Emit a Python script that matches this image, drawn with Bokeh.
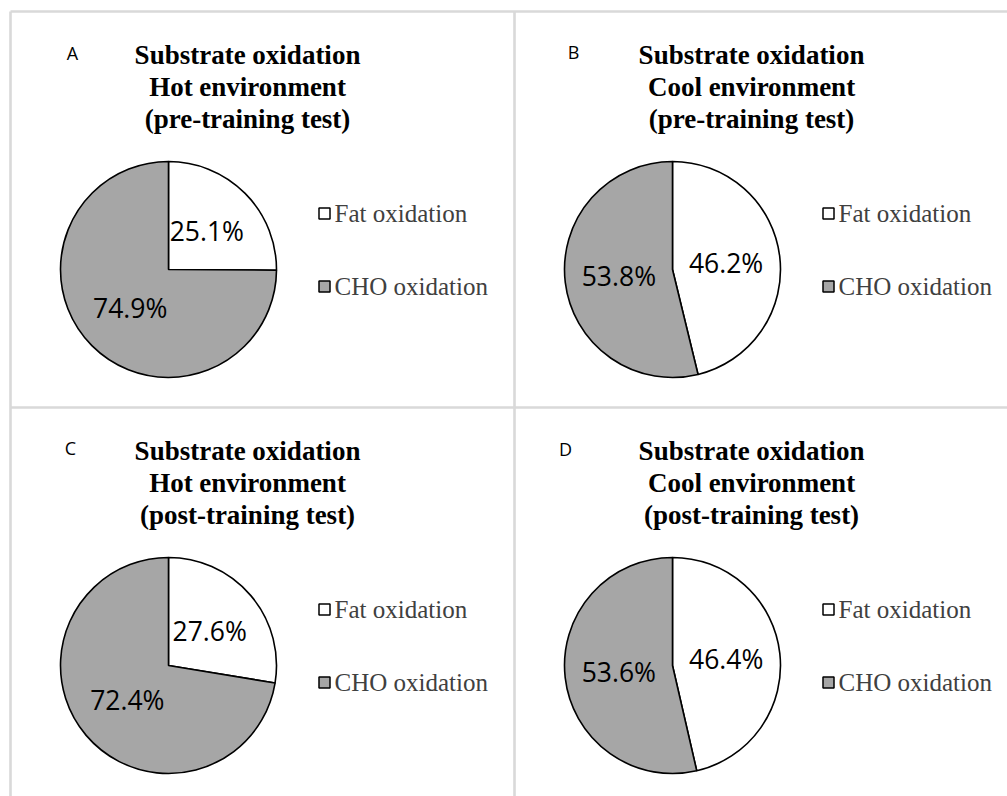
import math

from bokeh.core.properties import value
from bokeh.embed import file_html
from bokeh.models import ColumnDataSource, Range1d
from bokeh.plotting import figure
from bokeh.resources import INLINE

# ---- data -------------------------------------------------------------
panel_letters = ["A", "B", "C", "D"]
title_line1 = ["Substrate oxidation"] * 4
environments = ["Hot environment", "Cool environment", "Hot environment", "Cool environment"]
tests = ["(pre-training test)", "(pre-training test)", "(post-training test)", "(post-training test)"]
categories = ["Fat oxidation", "CHO oxidation"]
fat_pct = [25.1, 46.2, 27.6, 46.4]
cho_pct = [74.9, 53.8, 72.4, 53.6]

# ---- styling / layout -------------------------------------------------
W, H = 1007, 796
slice_colors = ["#ffffff", "#a6a6a6"]
grid_color = "#d9d9d9"
panel_x = [10, 514, 10, 514]          # top-left corner of each panel (px)
panel_y = [11, 11, 407, 407]
letter_dx = [62, 59, 60, 51]
letter_dy = [41, 40, 40, 41]
pie_dx, pie_dy, pie_r = 158, 258, 108
title_dx, title_dy, title_step = 237, 43, 32
legend_dx, legend_dy, legend_step = 314, 202, 73

# y is negated so that data units equal screen pixels measured from the top
p = figure(width=W, height=H, x_range=Range1d(0, W), y_range=Range1d(-H, 0),
           x_axis_type=None, y_axis_type=None, toolbar_location=None,
           output_backend="svg", min_border=0, outline_line_color=None,
           background_fill_color="white", border_fill_color="white")
p.grid.visible = False

# panel separators
p.segment(x0=[10, 10, 10, 514], y0=[-11, -407, -11, -11],
          x1=[W, W, 10, 514], y1=[-11, -407, -H, -H],
          line_color=grid_color, line_width=2.6)

for i in range(4):
    ox, oy = panel_x[i], panel_y[i]
    cx, cy = ox + pie_dx, -(oy + pie_dy)
    vals = [fat_pct[i], cho_pct[i]]
    total = sum(vals)

    # slices run clockwise from 12 o'clock
    starts, ends, lx, ly, labels = [], [], [], [], []
    acc = 0.0
    for v in vals:
        a0 = math.pi / 2 - 2 * math.pi * (acc + v) / total
        a1 = math.pi / 2 - 2 * math.pi * acc / total
        starts.append(a0)
        ends.append(a1)
        mid = (a0 + a1) / 2
        lx.append(cx + 0.5 * pie_r * math.cos(mid))
        ly.append(cy + 0.5 * pie_r * math.sin(mid))
        labels.append(f"{v:.1f}%")
        acc += v

    src = ColumnDataSource(dict(start=starts, end=ends, color=slice_colors,
                                lx=lx, ly=ly, label=labels))
    p.wedge(x=cx, y=cy, radius=pie_r, radius_units="data",
            start_angle="start", end_angle="end", source=src,
            fill_color="color", line_color="black", line_width=1.6)
    p.text(x="lx", y="ly", text="label", source=src,
           text_font=value("Open Sans"), text_font_size="26.5px",
           text_color="black", text_align="center", text_baseline="middle")

    # title
    p.text(x=[ox + title_dx] * 3,
           y=[-(oy + title_dy + k * title_step) for k in range(3)],
           text=[title_line1[i], environments[i], tests[i]],
           text_font=value("Liberation Serif"), text_font_style="bold",
           text_font_size="27px", text_color="black",
           text_align="center", text_baseline="middle")

    # panel letter
    p.text(x=[ox + letter_dx[i]], y=[-(oy + letter_dy[i])], text=[panel_letters[i]],
           text_font=value("Open Sans"), text_font_size="18px",
           text_color="black", text_align="center", text_baseline="middle")

    # legend
    ly_leg = [-(oy + legend_dy + k * legend_step) for k in range(2)]
    p.rect(x=[ox + legend_dx] * 2, y=ly_leg, width=11, height=11,
           fill_color=slice_colors, line_color="black", line_width=1.5)
    p.text(x=[ox + legend_dx + 10] * 2, y=ly_leg, text=categories,
           text_font=value("Liberation Serif"), text_font_size="25px",
           text_color="#404040", text_align="left", text_baseline="middle")

open("out.html", "w").write(file_html(p, INLINE))
